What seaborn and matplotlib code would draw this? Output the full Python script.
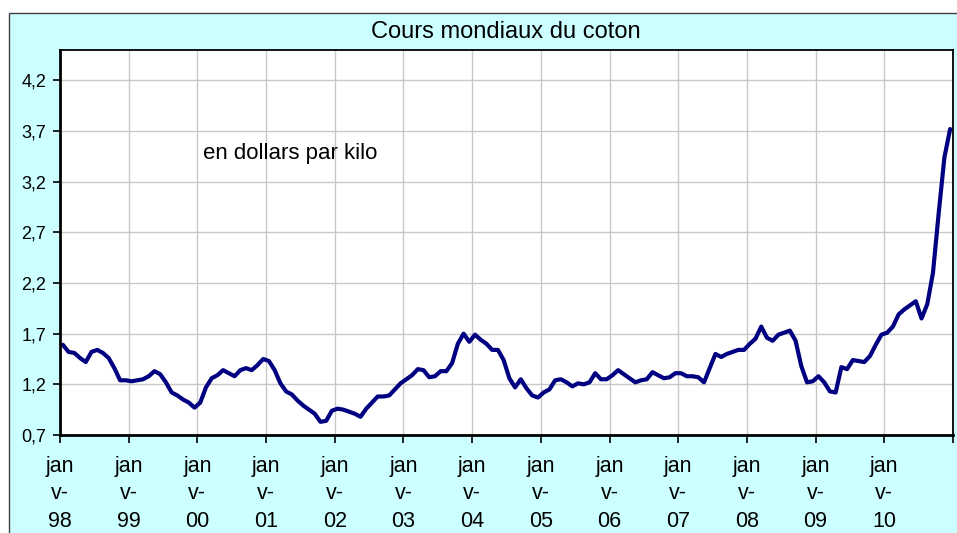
import numpy as np
import pandas as pd
import seaborn as sns
import matplotlib.pyplot as plt
from matplotlib.patches import Rectangle

# monthly cotton price, dollars per kilo, jan 1998 - dec 2010
prix_1998 = [1.59, 1.52, 1.51, 1.46, 1.42, 1.52, 1.54, 1.51, 1.46, 1.36, 1.24, 1.24]
prix_1999 = [1.23, 1.24, 1.25, 1.28, 1.33, 1.30, 1.22, 1.12, 1.09, 1.05, 1.02, 0.97]
prix_2000 = [1.02, 1.17, 1.26, 1.29, 1.34, 1.31, 1.28, 1.34, 1.36, 1.34, 1.39, 1.45]
prix_2001 = [1.43, 1.34, 1.21, 1.13, 1.10, 1.04, 0.99, 0.95, 0.91, 0.83, 0.84, 0.94]
prix_2002 = [0.96, 0.95, 0.93, 0.91, 0.88, 0.96, 1.02, 1.08, 1.08, 1.09, 1.15, 1.21]
prix_2003 = [1.25, 1.29, 1.35, 1.34, 1.27, 1.28, 1.33, 1.33, 1.41, 1.60, 1.70, 1.62]
prix_2004 = [1.69, 1.64, 1.60, 1.54, 1.54, 1.44, 1.26, 1.17, 1.25, 1.16, 1.09, 1.07]
prix_2005 = [1.12, 1.15, 1.24, 1.25, 1.22, 1.18, 1.21, 1.20, 1.22, 1.31, 1.25, 1.25]
prix_2006 = [1.29, 1.34, 1.30, 1.26, 1.22, 1.24, 1.25, 1.32, 1.29, 1.26, 1.27, 1.31]
prix_2007 = [1.31, 1.28, 1.28, 1.27, 1.22, 1.36, 1.50, 1.47, 1.50, 1.52, 1.54, 1.54]
prix_2008 = [1.60, 1.65, 1.77, 1.66, 1.63, 1.69, 1.71, 1.73, 1.63, 1.38, 1.22, 1.23]
prix_2009 = [1.28, 1.22, 1.13, 1.12, 1.37, 1.35, 1.44, 1.43, 1.42, 1.48, 1.59, 1.69]
prix_2010 = [1.71, 1.77, 1.89, 1.94, 1.98, 2.02, 1.85, 1.99, 2.30, 2.89, 3.44, 3.72]

annees = list(range(1998, 2011))
y_ticks = [0.7, 1.2, 1.7, 2.2, 2.7, 3.2, 3.7, 4.2]
y_labels = ["0,7", "1,2", "1,7", "2,2", "2,7", "3,2", "3,7", "4,2"]
x_labels = ["jan\nv-\n98", "jan\nv-\n99", "jan\nv-\n00", "jan\nv-\n01", "jan\nv-\n02",
            "jan\nv-\n03", "jan\nv-\n04", "jan\nv-\n05", "jan\nv-\n06", "jan\nv-\n07",
            "jan\nv-\n08", "jan\nv-\n09", "jan\nv-\n10", ""]

prix = (prix_1998 + prix_1999 + prix_2000 + prix_2001 + prix_2002 + prix_2003 + prix_2004
        + prix_2005 + prix_2006 + prix_2007 + prix_2008 + prix_2009 + prix_2010)
# points sit in the middle of each month
temps = [a + (m + 0.5) / 12 for a in annees for m in range(12)]
df = pd.DataFrame({"temps": temps, "prix": prix})

sns.set_style("whitegrid")
plt.rcParams['font.family'] = ['Liberation Sans', 'DejaVu Sans']
plt.rcParams['text.color'] = 'black'
plt.rcParams['xtick.color'] = 'black'
plt.rcParams['ytick.color'] = 'black'

fig = plt.figure(figsize=(9.57, 5.33), dpi=100)
fig.patch.set_facecolor("white")
# cyan chart frame, behind the axes
frame = Rectangle((9 / 957, -0.02), 1.0, 520 / 533 + 0.02, transform=fig.transFigure,
                  facecolor="#CCFFFF", edgecolor="#404040", lw=1.0, zorder=-10)
fig.add_artist(frame)

ax = fig.add_axes([60 / 957, 1 - 435 / 533, 893 / 957, 385 / 533])
ax.set_zorder(1)
ax.set_facecolor("white")
sns.lineplot(data=df, x="temps", y="prix", ax=ax, color="#000080", lw=3.0)

ax.set_xlim(1998, 2011)
ax.set_ylim(0.7, 4.5)
ax.set_xticks(annees + [2011])
ax.set_xticklabels(x_labels, fontsize=15.5, linespacing=1.4, color="black")
ax.set_yticks(y_ticks)
ax.set_yticklabels(y_labels, fontsize=13, color="black")
ax.set_xlabel("")
ax.set_ylabel("")
ax.grid(True, color="#C8C8C8", lw=1.0)
ax.tick_params(axis="x", length=6, width=1.2, color="black", pad=9, direction="out", bottom=True)
ax.tick_params(axis="y", length=5, width=1.2, color="black", pad=5, direction="out", left=True)
for s in ax.spines.values():
    s.set_color("black")
    s.set_linewidth(1.3)
ax.spines["left"].set_linewidth(2)
ax.spines["bottom"].set_linewidth(2)

ax.text(2000.08, 3.48, "en dollars par kilo", fontsize=16, va="center", ha="left", color="black")
fig.text(506 / 957, 1 - 32 / 533, "Cours mondiaux du coton", fontsize=17, ha="center",
         va="center", color="black")

fig.savefig("out.png", dpi=100)
